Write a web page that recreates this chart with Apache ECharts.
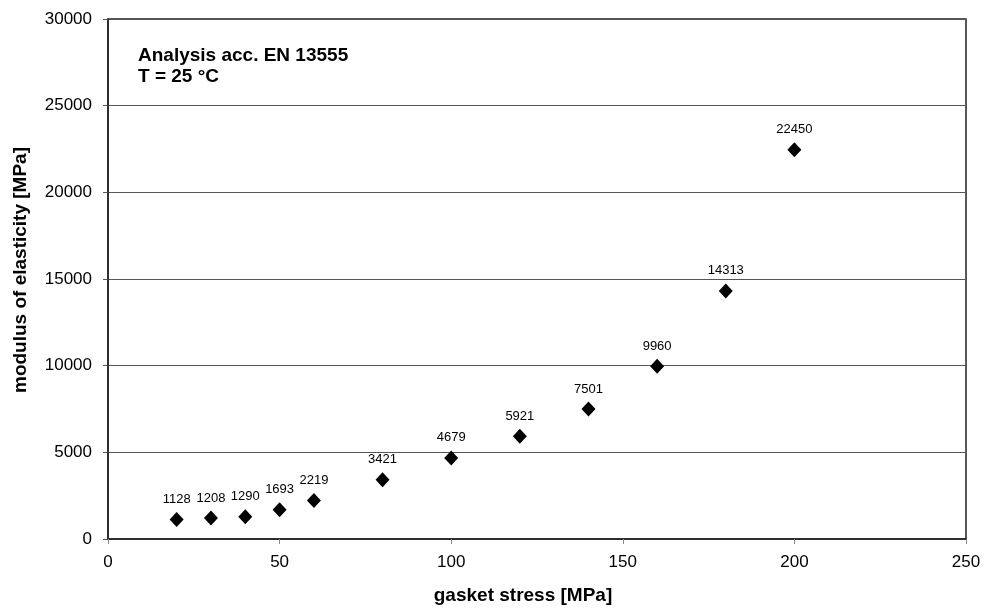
<!DOCTYPE html>
<html>
<head>
<meta charset="utf-8">
<script src="https://cdn.jsdelivr.net/npm/echarts@6/dist/echarts.min.js"></script>
<style>
html,body{margin:0;padding:0;background:#fff;}
#chart{width:984px;height:610px;}
</style>
</head>
<body>
<div id="chart"></div>
<script>
// Gasket stress [MPa] and measured modulus of elasticity [MPa]
const gasketStress = [20, 30, 40, 50, 60, 80, 100, 120, 140, 160, 180, 200];
const modulus = [1128, 1208, 1290, 1693, 2219, 3421, 4679, 5921, 7501, 9960, 14313, 22450];
const noteLines = ['Analysis acc. EN 13555', 'T = 25 °C'];

const font = 'Liberation Sans, Arial, sans-serif';
const chart = echarts.init(document.getElementById('chart'));

chart.setOption({
  backgroundColor: '#fff',
  animation: false,
  grid: {
    left: 108, right: 18, top: 19, bottom: 70,
    show: true, borderColor: '#222', borderWidth: 1.5, backgroundColor: '#fff'
  },
  graphic: [{
    type: 'text', left: 138, top: 45,
    style: { text: noteLines.join('\n'), font: 'bold 19px ' + font, fill: '#000', lineHeight: 21 }
  }],
  xAxis: {
    type: 'value', min: 0, max: 250, interval: 50,
    name: 'gasket stress [MPa]', nameLocation: 'middle', nameGap: 47,
    nameTextStyle: { fontFamily: font, fontWeight: 'bold', fontSize: 19, color: '#000', padding: [0, 28, 0, 0] },
    axisLine: { show: true, lineStyle: { color: '#222', width: 1.5 } },
    axisTick: { show: true, length: 5, lineStyle: { color: '#888' } },
    axisLabel: { fontFamily: font, fontSize: 17, color: '#000', margin: 15, formatter: v => String(v) },
    splitLine: { show: false }
  },
  yAxis: {
    type: 'value', min: 0, max: 30000, interval: 5000,
    name: 'modulus of elasticity [MPa]', nameLocation: 'middle', nameGap: 78,
    nameTextStyle: { fontFamily: font, fontWeight: 'bold', fontSize: 19, color: '#000', padding: [0, 0, 0, 18] },
    axisLine: { show: true, lineStyle: { color: '#222', width: 1.5 } },
    axisTick: { show: true, length: 5, lineStyle: { color: '#555' } },
    axisLabel: { fontFamily: font, fontSize: 17, color: '#000', margin: 16, formatter: v => String(v) },
    splitLine: { show: true, lineStyle: { color: '#555', width: 1 } }
  },
  series: [{
    type: 'scatter',
    symbol: 'diamond',
    symbolSize: [14, 15],
    itemStyle: { color: '#000', opacity: 1 },
    data: gasketStress.map((x, i) => [x, modulus[i]]),
    label: {
      show: true, position: 'top', distance: 6,
      fontFamily: font, fontSize: 13, color: '#000',
      formatter: p => String(p.value[1])
    }
  }]
});
</script>
</body>
</html>
